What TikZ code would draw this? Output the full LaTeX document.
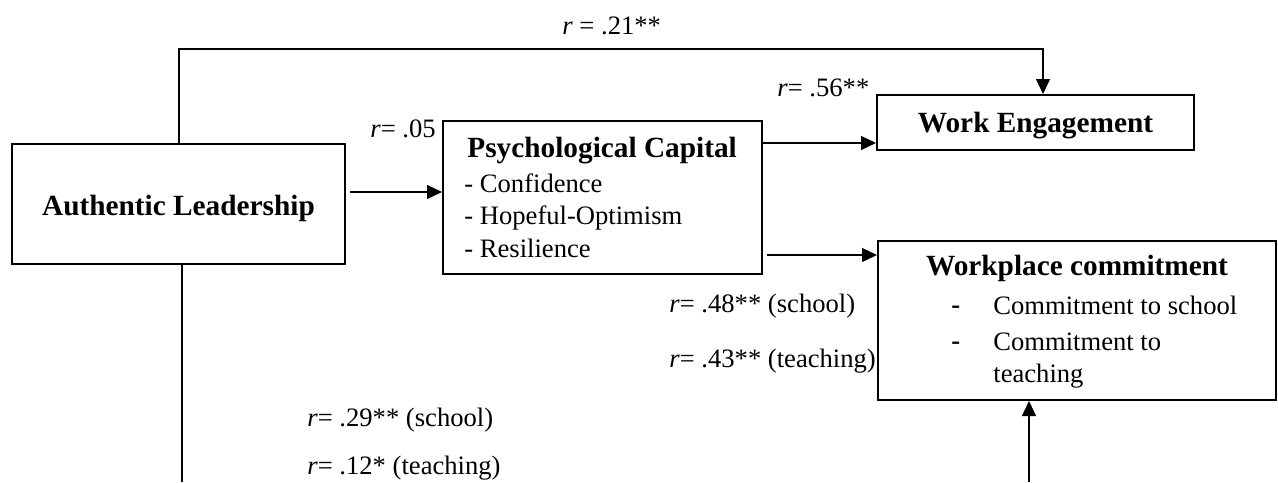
\documentclass[tikz,border=0pt]{standalone}
\usepackage{fontspec}
\setmainfont{Liberation Serif}
\usetikzlibrary{arrows.meta}
\begin{document}
\begin{tikzpicture}[x=0.5pt,y=-0.5pt,
  box/.style={draw, line width=1pt, inner sep=0pt},
  lbl/.style={inner sep=0pt, anchor=west, text height=0.7em, text depth=0.22em, font=\fontsize{13.3}{16}\selectfont},
  ttl/.style={inner sep=0pt, text height=0.7em, text depth=0.22em, font=\fontsize{14.65}{17}\selectfont\bfseries},
  conn/.style={line width=0.6pt},
  arr/.style={conn, -{Triangle[length=7.5pt,width=7pt]}}]
\useasboundingbox (0,0) rectangle (1278,482);
% boxes
\node[box, minimum width=166.5pt, minimum height=60pt] (AL) at (178.5,204) {};
\node[box, minimum width=159.5pt, minimum height=76.5pt] (PC) at (602.5,197.5) {};
\node[box, minimum width=158.5pt, minimum height=27.5pt] (WE) at (1035.5,122.5) {};
\node[box, minimum width=199pt, minimum height=79.5pt] (WC) at (1077,320.5) {};
% box texts
\node[ttl] (ALt) at (178.5,211) {Authentic Leadership};
\node[ttl, anchor=west] (PCt) at (467,153) {Psychological Capital};
\node[lbl] (PC1) at (464,187.5) {- Confidence};
\node[lbl] (PC2) at (464,220) {- Hopeful-Optimism};
\node[lbl] (PC3) at (464,252.5) {- Resilience};
\node[ttl] (WEt) at (1035.5,128) {Work Engagement};
\node[ttl] (WCt) at (1077,271) {Workplace commitment};
\node[lbl, font=\fontsize{13.3}{16}\selectfont\bfseries] (WCd1) at (951,309) {-};
\node[lbl, font=\fontsize{13.3}{16}\selectfont\bfseries] (WCd2) at (951,345) {-};
\node[lbl] (WC1) at (993,309.5) {Commitment to school};
\node[lbl] (WC2) at (993,345.5) {Commitment to};
\node[lbl] (WC3) at (993,378) {teaching};
% connectors
\coordinate (t1) at (179,49);
\coordinate (t2) at (1043,49);
\draw[arr] (t1 |- AL.north) -- (t1) -- (t2) -- (t2 |- WE.north);
\coordinate (a1) at (350,192);
\draw[arr] (a1) -- (a1 -| PC.west);
\coordinate (a2) at (762,143);
\draw[arr] (a2 -| PC.east) -- (a2 -| WE.west);
\coordinate (a3) at (767,255);
\draw[arr] (a3) -- (a3 -| WC.west);
\coordinate (b1) at (182,482);
\draw[conn] (b1 |- AL.south) -- (b1);
\coordinate (a4) at (1029,482);
\draw[arr] (a4) -- (a4 |- WC.south);
% labels
\node[lbl] (r1) at (562,30) {\textit{r} = .21**};
\node[lbl] (r2) at (777,92) {\textit{r}= .56**};
\node[lbl] (r3) at (370,132.5) {\textit{r}= .05};
\node[lbl] (r4) at (669,308) {\textit{r}= .48** (school)};
\node[lbl] (r5) at (669,363) {\textit{r}= .43** (teaching)};
\node[lbl] (r6) at (307,422) {\textit{r}= .29** (school)};
\node[lbl] (r7) at (307,470) {\textit{r}= .12* (teaching)};
\end{tikzpicture}
\end{document}
